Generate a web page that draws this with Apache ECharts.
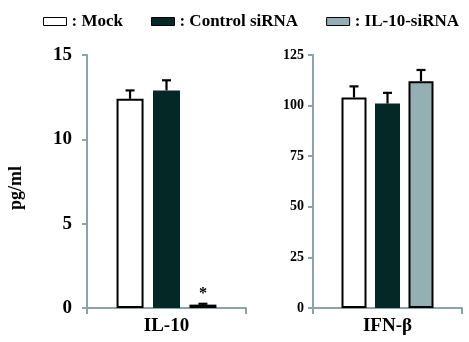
<!DOCTYPE html>
<html><head><meta charset="utf-8">
<script src="https://cdn.jsdelivr.net/npm/echarts@6/dist/echarts.min.js"></script>
<style>html,body{margin:0;padding:0;background:#fff}#c{width:469px;height:342px}</style>
</head><body><div id="c"></div>
<script>
const seriesNames = ['Mock', 'Control siRNA', 'IL-10-siRNA'];
const categoriesLeft = ['IL-10'];
const categoriesRight = ['IFN-β'];
const mockValues = [12.4, 104];
const controlValues = [12.9, 101];
const sirnaValues = [0.2, 112];
const mockErrors = [0.5, 5.5];
const controlErrors = [0.6, 5.3];
const sirnaErrors = [0.05, 5.6];
const leftTicks = [0, 5, 10, 15];
const rightTicks = [0, 25, 50, 75, 100, 125];

const FONT = '"Liberation Serif", "DejaVu Serif", serif';
const AXIS = '#8ca3a7';
const fills = ['#ffffff', '#032825', '#94b0b4'];
const borders = ['#000000', '#032825', '#000000'];
const valuesBy = [mockValues, controlValues, sirnaValues];
const errorsBy = [mockErrors, controlErrors, sirnaErrors];
const panel = [
  {barWidth: 27, gapPct: 35},
  {barWidth: 25, gapPct: 34}
];

const chart = echarts.init(document.getElementById('c'));
const series = [];
for (let g = 0; g < 2; g++) {
  seriesNames.forEach((name, i) => {
    const d = {value: valuesBy[i][g]};
    if (g === 0 && i === 2) {
      d.label = {show: true, position: 'top', formatter: '*', distance: 3,
        fontFamily: FONT, fontWeight: 'bold', fontSize: 16, color: '#000'};
    }
    series.push({
      name: name, type: 'bar', xAxisIndex: g, yAxisIndex: g,
      barWidth: panel[g].barWidth, barGap: panel[g].gapPct + '%',
      itemStyle: {color: fills[i], borderColor: borders[i], borderWidth: 2},
      data: [d], z: 2
    });
  });
  seriesNames.forEach((name, i) => {
    const step = panel[g].barWidth * (1 + panel[g].gapPct / 100);
    const off = (i - 1) * step;
    series.push({
      type: 'custom', xAxisIndex: g, yAxisIndex: g, z: 3, silent: true,
      data: [[0, valuesBy[i][g], errorsBy[i][g]]],
      renderItem: function (params, api) {
        const base = api.coord([api.value(0), api.value(1)]);
        const top = api.coord([api.value(0), api.value(1) + api.value(2)]);
        const x = base[0] + off;
        return {type: 'group', children: [
          {type: 'line', shape: {x1: x, y1: base[1], x2: x, y2: top[1]}, style: {stroke: '#000', lineWidth: 2.2}},
          {type: 'line', shape: {x1: x - 4.5, y1: top[1], x2: x + 4.5, y2: top[1]}, style: {stroke: '#000', lineWidth: 2.2}}
        ]};
      }
    });
  });
}

function yAxis(ticks, fontSize, margin, extra) {
  return Object.assign({
    type: 'value', min: ticks[0], max: ticks[ticks.length - 1], interval: ticks[1] - ticks[0],
    splitLine: {show: false},
    axisLine: {show: true, lineStyle: {color: AXIS, width: 2}},
    axisTick: {show: true, length: 5, lineStyle: {color: AXIS, width: 2}},
    axisLabel: {fontFamily: FONT, fontWeight: 'bold', fontSize: fontSize, color: '#000', margin: margin}
  }, extra || {});
}
function xAxis(cats) {
  return {
    type: 'category', data: cats,
    axisLine: {show: true, lineStyle: {color: AXIS, width: 2}},
    axisTick: {show: true, length: 6, lineStyle: {color: AXIS, width: 2}},
    axisLabel: {fontFamily: FONT, fontWeight: 'bold', fontSize: 19, color: '#000', margin: 9}
  };
}

chart.setOption({
  animation: false,
  legend: {
    top: 8, left: 38, itemGap: 28, itemWidth: 23, itemHeight: 8, icon: 'rect',
    formatter: ': {name}',
    textStyle: {fontFamily: FONT, fontWeight: 'bold', fontSize: 17, color: '#000'},
    data: seriesNames.map((n, i) => ({name: n, itemStyle: {color: fills[i], borderColor: '#000', borderWidth: 1}}))
  },
  grid: [
    {left: 87, top: 55, width: 159, height: 253},
    {left: 313, top: 55, width: 149, height: 253}
  ],
  xAxis: [xAxis(categoriesLeft), Object.assign(xAxis(categoriesRight), {gridIndex: 1})],
  yAxis: [
    yAxis(leftTicks, 19, 15),
    yAxis(rightTicks, 14, 9, {gridIndex: 1})
  ],
  graphic: [{
    type: 'text', x: 16, y: 188, rotation: Math.PI / 2,
    style: {text: 'pg/ml', fontFamily: FONT, fontWeight: 'bold', fontSize: 18, fill: '#000',
      textAlign: 'center', textVerticalAlign: 'middle'}
  }],
  series: series
});
</script></body></html>
